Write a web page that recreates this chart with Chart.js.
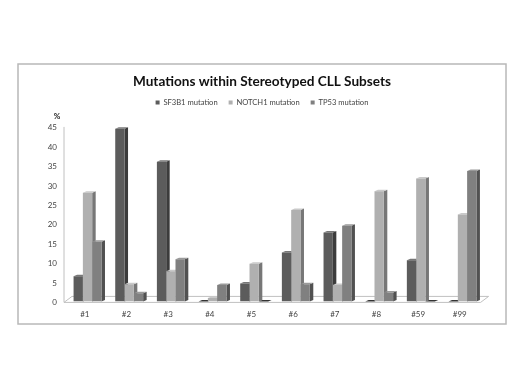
<!DOCTYPE html>
<html>
<head>
<meta charset="utf-8">
<script src="https://cdn.jsdelivr.net/npm/chart.js@4"></script>
<style>
  html, body { margin: 0; padding: 0; background: #fff; }
  #wrap { width: 520px; height: 390px; }
  #myChart { filter: blur(0.45px); }
</style>
</head>
<body>
<div id="wrap"><canvas id="myChart" width="520" height="390"></canvas></div>
<script>
const categories = ['#1', '#2', '#3', '#4', '#5', '#6', '#7', '#8', '#59', '#99'];
const sf3b1  = [6.5, 44.5, 36, 0, 4.6, 12.6, 17.8, 0, 10.6, 0];
const notch1 = [28, 4.4, 7.8, 0.9, 9.7, 23.6, 4.2, 28.4, 31.7, 22.4];
const tp53   = [15.4, 2.1, 10.9, 4.2, 0, 4.4, 19.5, 2.3, 0, 33.6];
const yTicks = [0, 5, 10, 15, 20, 25, 30, 35, 40, 45];

const DEPTH = 3.5;
const RISE = 1.5;
const AXIS_SHIFT = 2.7; // bars sit a bit right of the drawn axis

// frame, axis lines, floor and the "%" label
const backdrop = {
    id: 'backdrop',
    beforeInit(chart) {
        // extra room under the legend
        const fit = chart.legend.fit;
        chart.legend.fit = function () {
            fit.call(this);
            this.height += 10.5;
        };
    },
    beforeDatasetsDraw(chart) {
        const { ctx, chartArea: a } = chart;
        const left = a.left - AXIS_SHIFT;
        const right = a.right - AXIS_SHIFT;
        ctx.save();
        ctx.strokeStyle = '#b8b8b8';
        ctx.lineWidth = 1.5;
        ctx.strokeRect(18, 64, 488, 260);

        ctx.strokeStyle = '#c0c0c0';
        ctx.lineWidth = 1;
        ctx.beginPath();
        ctx.moveTo(left, a.top);
        ctx.lineTo(left, a.bottom + 1);
        ctx.lineTo(right, a.bottom + 1);
        ctx.lineTo(right + 8, a.bottom - 5);
        ctx.lineTo(left + 8, a.bottom - 5);
        ctx.lineTo(left, a.bottom + 1);
        ctx.stroke();

        ctx.fillStyle = '#222';
        ctx.font = 'bold 8px Lato';
        ctx.textAlign = 'center';
        ctx.fillText('%', 57, 116);
        ctx.restore();

        drawBarSides(chart);
    }
};

// sides and tops go under the front faces, taken from the bar elements
function drawBarSides(chart) {
    const ctx = chart.ctx;
    const sides = ['#3c3c3c', '#777777', '#515151'];
    const tops  = ['#777777', '#c9c9c9', '#9a9a9a'];
    chart.data.datasets.forEach((ds, i) => {
        chart.getDatasetMeta(i).data.forEach(bar => {
            const l = bar.x - bar.width / 2;
            const r = bar.x + bar.width / 2;
            const t = bar.y;
            const b = bar.base;

            ctx.fillStyle = sides[i];
            ctx.beginPath();
            ctx.moveTo(r, t);
            ctx.lineTo(r + DEPTH, t - RISE);
            ctx.lineTo(r + DEPTH, b - RISE);
            ctx.lineTo(r, b);
            ctx.closePath();
            ctx.fill();

            ctx.fillStyle = b - t < 1 ? '#333' : tops[i];
            ctx.beginPath();
            ctx.moveTo(l, t);
            ctx.lineTo(l + DEPTH, t - RISE);
            ctx.lineTo(r + DEPTH, t - RISE);
            ctx.lineTo(r, t);
            ctx.closePath();
            ctx.fill();
        });
    });
}

function makeDataset(label, values, color) {
    return {
        label: label,
        data: values,
        backgroundColor: color,
        borderWidth: 0,
        categoryPercentage: 0.67,
        barPercentage: 1
    };
}

new Chart(document.getElementById('myChart'), {
    type: 'bar',
    data: {
        labels: categories,
        datasets: [
            makeDataset('SF3B1 mutation', sf3b1, '#5c5c5c'),
            makeDataset('NOTCH1 mutation', notch1, '#b0b0b0'),
            makeDataset('TP53 mutation', tp53, '#808080')
        ]
    },
    plugins: [backdrop],
    options: {
        responsive: false,
        animation: false,
        layout: { padding: { left: 40.7, right: 36.7, top: 73.5, bottom: 63 } },
        plugins: {
            tooltip: { enabled: false },
            title: {
                display: true,
                text: 'Mutations within Stereotyped CLL Subsets',
                color: '#111',
                font: { family: 'Lato', size: 13.6, weight: 'bold' },
                padding: { top: 0, bottom: -2 }
            },
            legend: {
                position: 'top',
                labels: {
                    color: '#444',
                    font: { family: 'Lato', size: 7.6 },
                    boxWidth: 4,
                    boxHeight: 4,
                    padding: 11
                }
            }
        },
        scales: {
            x: {
                grid: { display: false, drawTicks: false },
                border: { display: false },
                ticks: {
                    color: '#444',
                    font: { family: 'Lato', size: 8 },
                    padding: 8,
                    labelOffset: -AXIS_SHIFT
                }
            },
            y: {
                min: 0,
                max: 45,
                afterBuildTicks(axis) { axis.ticks = yTicks.map(v => ({ value: v })); },
                afterFit(axis) { axis.width = 26; },
                grid: { display: false, drawTicks: false },
                border: { display: false },
                ticks: { color: '#444', font: { family: 'Lato', size: 8 }, padding: 9.7, labelOffset: 1 }
            }
        }
    }
});
</script>
</body>
</html>
